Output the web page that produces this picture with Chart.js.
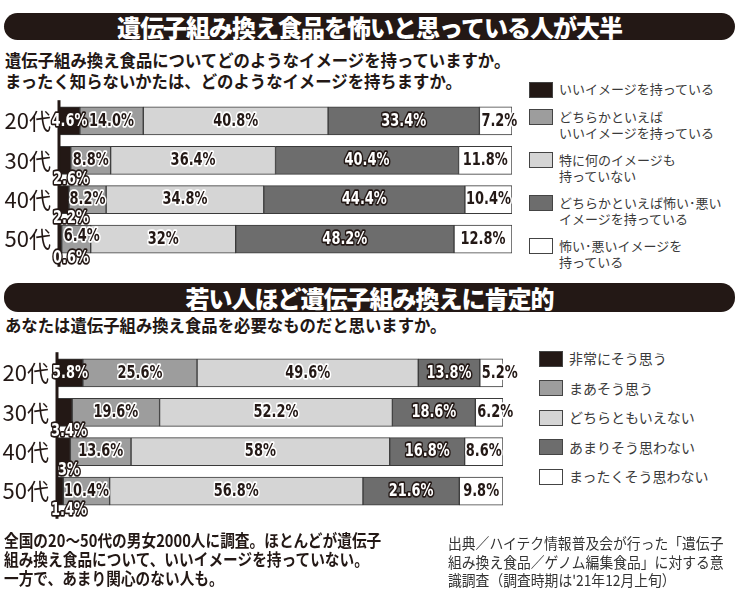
<!DOCTYPE html>
<html>
<head>
    <meta charset="UTF-8">
    <title>遺伝子組み換え食品</title>
    <script src="https://cdn.jsdelivr.net/npm/chart.js@4.4.1/dist/chart.umd.min.js"></script>
    <style>
        body { margin: 0; width: 750px; height: 596px; position: relative; overflow: hidden; background: #fff;
               font-family: "Noto Sans CJK JP", sans-serif; color: #231815; }
        .titleBar { position: absolute; left: 4px; width: 731px; background: #231815; border-radius: 14px;
                    color: #fff; text-align: center; font-weight: 900; font-size: 24px; letter-spacing: -1px; }
        .question { position: absolute; left: 5px; font-weight: 700; font-size: 17.5px; line-height: 21px; white-space: nowrap;
                    transform: scaleX(0.935); transform-origin: left top; }
        .legend { position: absolute; color: #3a3a3a; }
        .legend .item { display: flex; align-items: flex-start; }
        .legend .box { width: 22px; height: 14px; border: 1.5px solid #444; margin-right: 6px; margin-top: 0.5px; flex: none; }
        .legend .txt { white-space: pre-line; }
        .note { position: absolute; white-space: nowrap; transform-origin: left top; }
        canvas { position: absolute; left: 0; }
    </style>
</head>
<body>

<div class="titleBar" style="top: 13px; height: 27px; line-height: 27px;">遺伝子組み換え食品を怖いと思っている人が大半</div>
<div class="question" style="top: 49px;">遺伝子組み換え食品についてどのようなイメージを持っていますか。<br>まったく知らないかたは、どのようなイメージを持ちますか。</div>

<canvas id="imageChart" width="525" height="200" style="top: 80px;"></canvas>
<div class="legend" id="imageLegend" style="left: 529px; top: 81px; font-size: 13px; line-height: 16px;"></div>

<div class="titleBar" style="top: 283px; height: 29px; line-height: 29px;">若い人ほど遺伝子組み換えに肯定的</div>
<div class="question" style="top: 314px;">あなたは遺伝子組み換え食品を必要なものだと思いますか。</div>

<canvas id="needChart" width="525" height="200" style="top: 332px;"></canvas>
<div class="legend" id="needLegend" style="left: 539px; top: 350px; font-size: 14px; line-height: 16px;"></div>

<div class="note" style="left: 4px; top: 531px; font-weight: 700; font-size: 16.5px; line-height: 19px; transform: scaleX(0.89);">全国の20～50代の男女2000人に調査。ほとんどが遺伝子<br>組み換え食品について、いいイメージを持っていない。<br>一方で、あまり関心のない人も。</div>
<div class="note" style="left: 448px; top: 534px; font-size: 15px; line-height: 18.5px; color: #333; transform: scaleX(0.92);">出典／ハイテク情報普及会が行った「遺伝子<br>組み換え食品／ゲノム編集食品」に対する意<br>識調査（調査時期は'21年12月上旬）</div>

<script>
    // 年代
    var ages = ['20代', '30代', '40代', '50代'];

    // 上：どのようなイメージを持っていますか（%）
    var imageNames = ['いいイメージを持っている', 'どちらかといえば\nいいイメージを持っている', '特に何のイメージも\n持っていない',
        'どちらかといえば怖い･悪い\nイメージを持っている', '怖い･悪いイメージを\n持っている'];
    var imageGood = [4.6, 2.6, 2.2, 0.6];
    var imageRatherGood = ['14.0', 8.8, 8.2, 6.4]; // 14.0は表記どおり
    var imageNone = [40.8, 36.4, 34.8, 32];
    var imageRatherBad = [33.4, 40.4, 44.4, 48.2];
    var imageBad = [7.2, 11.8, 10.4, 12.8];

    // 下：必要なものだと思いますか（%）
    var needNames = ['非常にそう思う', 'まあそう思う', 'どちらともいえない', 'あまりそう思わない', 'まったくそう思わない'];
    var needStrong = [5.8, 3.4, 3, 1.4];
    var needSome = [25.6, 19.6, 13.6, 10.4];
    var needNeutral = [49.6, 52.2, 58, 56.8];
    var needLittle = [13.8, 18.6, 16.8, 21.6];
    var needNot = [5.2, 6.2, 8.6, 9.8];

    var colors = ['#231815', '#9d9d9d', '#d5d5d5', '#6d6d6d', '#ffffff'];

    // 縦軸の線（棒の下まで少し伸ばす）
    var axisLine = {
        id: 'axisLine',
        afterDatasetsDraw: function (chart) {
            var a = chart.chartArea, c = chart.ctx;
            c.save();
            c.strokeStyle = '#231815';
            c.lineWidth = 3;
            c.beginPath();
            c.moveTo(a.left, a.top - 1);
            c.lineTo(a.left, a.bottom + 8);
            c.stroke();
            c.restore();
        }
    };

    // 各区間の%ラベル（細めの太字）
    var segmentLabels = {
        id: 'segmentLabels',
        afterDatasetsDraw: function (chart) {
            var c = chart.ctx;
            var base = chart.scales.x.getPixelForValue(0);
            var sx = 0.8;
            c.save();
            c.font = 'bold 18px "DejaVu Sans Condensed", "Liberation Sans Narrow", sans-serif';
            c.textBaseline = 'middle';
            c.lineJoin = 'round';
            chart.data.datasets.forEach(function (ds, i) {
                chart.getDatasetMeta(i).data.forEach(function (bar, j) {
                    var raw = ds.data[j];
                    var text = raw + '%';
                    var p = bar.getProps(['x', 'y', 'base', 'height'], true);
                    var left = Math.min(p.x, p.base), right = Math.max(p.x, p.base);
                    var w = c.measureText(text).width * sx;
                    var x = (left + right) / 2, y = p.y, align = 'center';
                    var dark = (i === 0 || i === 3);
                    if (i === 0 && +raw < 4) {
                        // 小さすぎる区間は棒の下に
                        x = base + 12;
                        y = p.y + p.height / 2 + 5;
                    } else if ((i === 1 || i === 4) && w > right - left) {
                        x = left + 2;
                        align = 'left';
                        if (i === 1) y -= 3;
                    }
                    c.save();
                    c.translate(x, y);
                    c.scale(sx, 1);
                    c.textAlign = align;
                    c.lineWidth = 3.5;
                    c.strokeStyle = dark ? '#231815' : '#ffffff';
                    c.fillStyle = dark ? '#ffffff' : '#231815';
                    c.strokeText(text, 0, 0);
                    c.fillText(text, 0, 0);
                    c.restore();
                });
            });
            c.restore();
        }
    };

    function makeChart(id, names, series, axisWidth, pad) {
        return new Chart(document.getElementById(id), {
            type: 'bar',
            data: {
                labels: ages,
                datasets: series.map(function (s, i) {
                    return {
                        label: names[i],
                        data: s,
                        backgroundColor: colors[i],
                        borderColor: '#3a3a3a',
                        borderWidth: 1,
                        borderSkipped: false,
                        barThickness: 28
                    };
                })
            },
            options: {
                indexAxis: 'y',
                responsive: false,
                animation: false,
                layout: { padding: pad },
                plugins: { legend: { display: false }, tooltip: { enabled: false } },
                scales: {
                    x: { stacked: true, min: 0, max: 100, display: false },
                    y: {
                        stacked: true,
                        grid: { display: false, drawTicks: false },
                        border: { display: false },
                        ticks: { color: '#231815', padding: 8, font: { family: '"Noto Sans CJK JP", sans-serif', size: 22 } },
                        afterFit: function (s) { s.width = axisWidth; }
                    }
                }
            },
            plugins: [axisLine, segmentLabels]
        });
    }

    function makeLegend(id, names, gap) {
        var box = document.getElementById(id);
        names.forEach(function (n, i) {
            var item = document.createElement('div');
            item.className = 'item';
            item.style.marginBottom = gap + 'px';
            var sq = document.createElement('div');
            sq.className = 'box';
            sq.style.background = colors[i];
            var t = document.createElement('div');
            t.className = 'txt';
            t.textContent = n;
            item.appendChild(sq);
            item.appendChild(t);
            box.appendChild(item);
        });
    }

    makeChart('imageChart', imageNames, [imageGood, imageRatherGood, imageNone, imageRatherBad, imageBad], 59,
        { left: 0, right: 13, top: 9, bottom: 15 });
    makeChart('needChart', needNames, [needStrong, needSome, needNeutral, needLittle, needNot], 57,
        { left: 0, right: 22, top: 9, bottom: 15 });

    makeLegend('imageLegend', imageNames, 11);
    makeLegend('needLegend', needNames, 13);
</script>

</body>
</html>
